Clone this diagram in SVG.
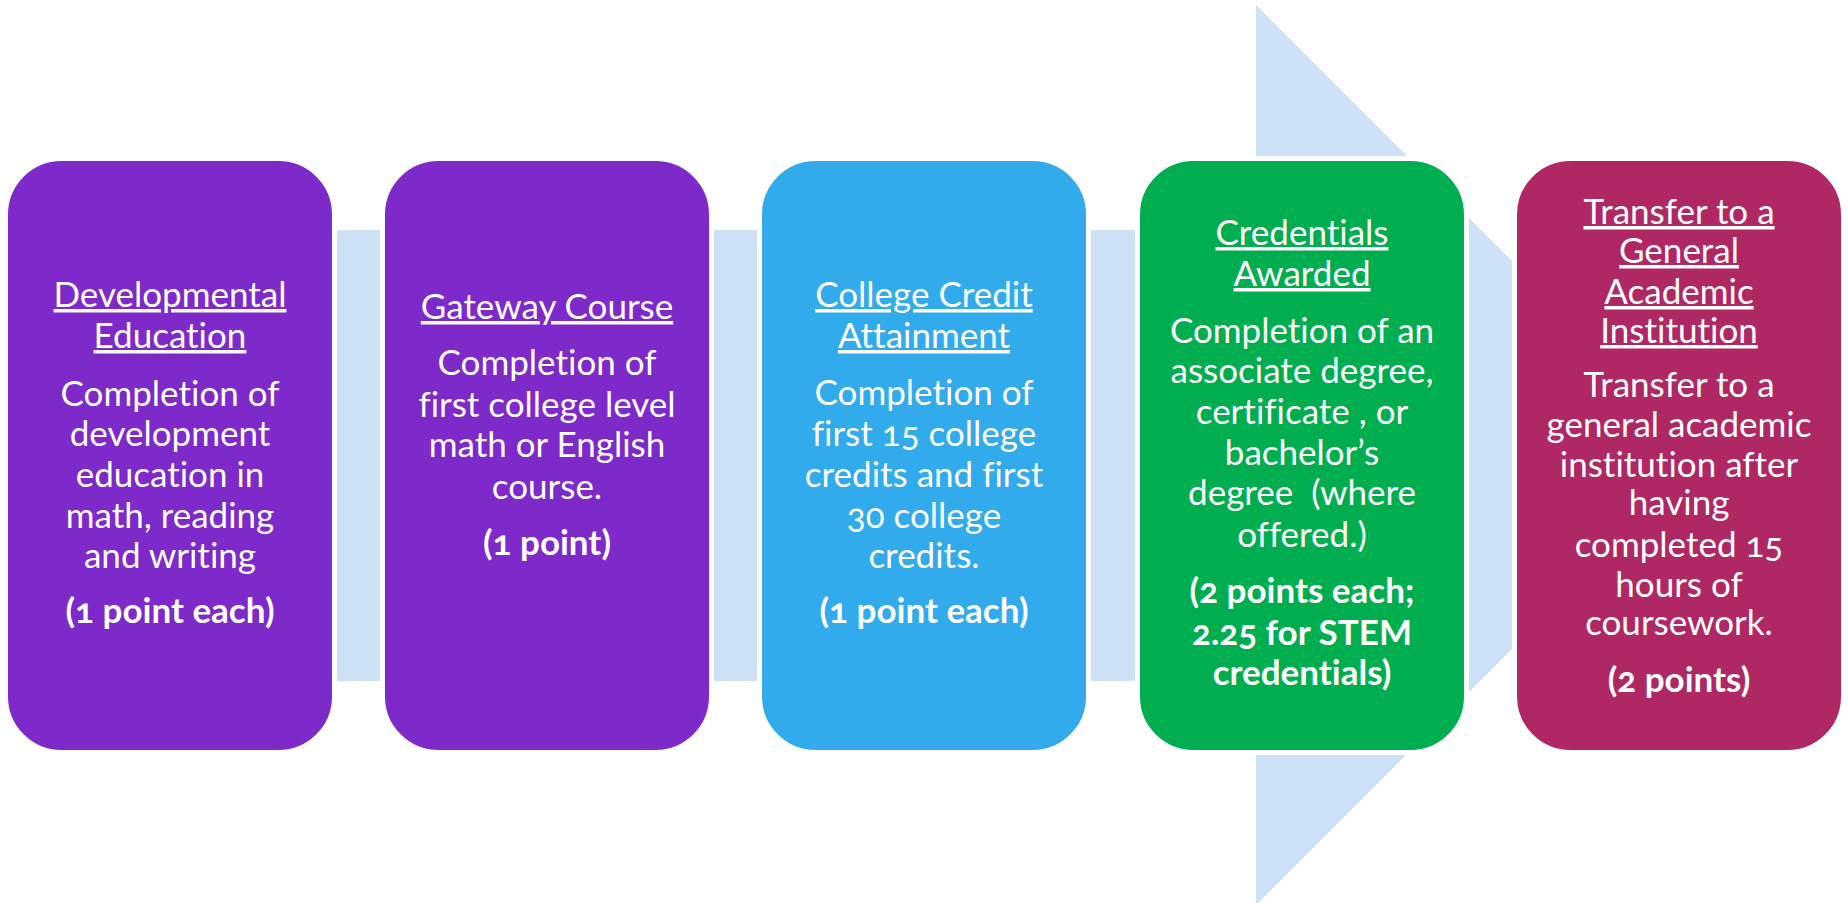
<svg xmlns="http://www.w3.org/2000/svg" width="1848" height="903" viewBox="0 0 1848 903">
  <style>
    .box { stroke: #ffffff; stroke-width: 5; }
    .t { font-family: Lato, "Open Sans", "Liberation Sans", sans-serif; font-size: 35px; fill: #ffffff; text-anchor: middle; font-feature-settings: "onum"; font-variant-ligatures: none; }
    .h { text-decoration: underline; }
    .b { font-weight: bold; }
  </style>

  <rect width="1848" height="903" fill="#ffffff"/>

  <!-- background process arrow behind the stages -->
  <g id="connectors">
    <polygon points="12,230 1256,230 1256,5 1706,455 1256,905 1256,681 12,681" fill="#CDE2F6"/>
  </g>

  <!-- Stage 1 -->
  <g id="developmental-education">
    <rect class="box" x="5.5" y="158.5" width="329" height="594" rx="56" fill="#7E29CA"/>
    <text class="t h" x="170" y="307">Developmental</text>
    <text class="t h" x="170" y="348">Education</text>
    <text class="t" x="170" y="406">Completion of</text>
    <text class="t" x="170" y="446">development</text>
    <text class="t" x="170" y="487">education in</text>
    <text class="t" x="170" y="528">math, reading</text>
    <text class="t" x="170" y="568">and writing</text>
    <text class="t b" x="170" y="623">(1 point each)</text>
  </g>

  <!-- Stage 2 -->
  <g id="gateway-course">
    <rect class="box" x="382.5" y="158.5" width="329" height="594" rx="56" fill="#7E29CA"/>
    <text class="t h" x="547" y="319">Gateway Course</text>
    <text class="t" x="547" y="375">Completion of</text>
    <text class="t" x="547" y="417">first college level</text>
    <text class="t" x="547" y="457">math or English</text>
    <text class="t" x="547" y="499">course.</text>
    <text class="t b" x="547" y="555">(1 point)</text>
  </g>

  <!-- Stage 3 -->
  <g id="college-credit-attainment">
    <rect class="box" x="759.5" y="158.5" width="329" height="594" rx="56" fill="#31ABEB"/>
    <text class="t h" x="924" y="307">College Credit</text>
    <text class="t h" x="924" y="348">Attainment</text>
    <text class="t" x="924" y="405">Completion of</text>
    <text class="t" x="924" y="446">first 15 college</text>
    <text class="t" x="924" y="487">credits and first</text>
    <text class="t" x="924" y="528">30 college</text>
    <text class="t" x="924" y="568">credits.</text>
    <text class="t b" x="924" y="623">(1 point each)</text>
  </g>

  <!-- Stage 4 -->
  <g id="credentials-awarded">
    <rect class="box" x="1137.5" y="158.5" width="329" height="594" rx="56" fill="#00AE4F"/>
    <text class="t h" x="1302" y="245">Credentials</text>
    <text class="t h" x="1302" y="286">Awarded</text>
    <text class="t" x="1302" y="343">Completion of an</text>
    <text class="t" x="1302" y="383">associate degree,</text>
    <text class="t" x="1302" y="424">certificate , or</text>
    <text class="t" x="1302" y="465">bachelor’s</text>
    <text class="t" x="1302" y="505" xml:space="preserve">degree  (where</text>
    <text class="t" x="1302" y="547">offered.)</text>
    <text class="t b" x="1302" y="603">(2 points each;</text>
    <text class="t b" x="1302" y="645">2.25 for STEM</text>
    <text class="t b" x="1302" y="685">credentials)</text>
  </g>

  <!-- Stage 5 -->
  <g id="transfer-general-academic">
    <rect class="box" x="1514.5" y="158.5" width="329" height="594" rx="56" fill="#AF2763"/>
    <text class="t h" x="1679" y="224">Transfer to a</text>
    <text class="t h" x="1679" y="263">General</text>
    <text class="t h" x="1679" y="304">Academic</text>
    <text class="t h" x="1679" y="343">Institution</text>
    <text class="t" x="1679" y="397">Transfer to a</text>
    <text class="t" x="1679" y="437">general academic</text>
    <text class="t" x="1679" y="477">institution after</text>
    <text class="t" x="1679" y="515">having</text>
    <text class="t" x="1679" y="557">completed 15</text>
    <text class="t" x="1679" y="597">hours of</text>
    <text class="t" x="1679" y="635">coursework.</text>
    <text class="t b" x="1679" y="692">(2 points)</text>
  </g>
</svg>
